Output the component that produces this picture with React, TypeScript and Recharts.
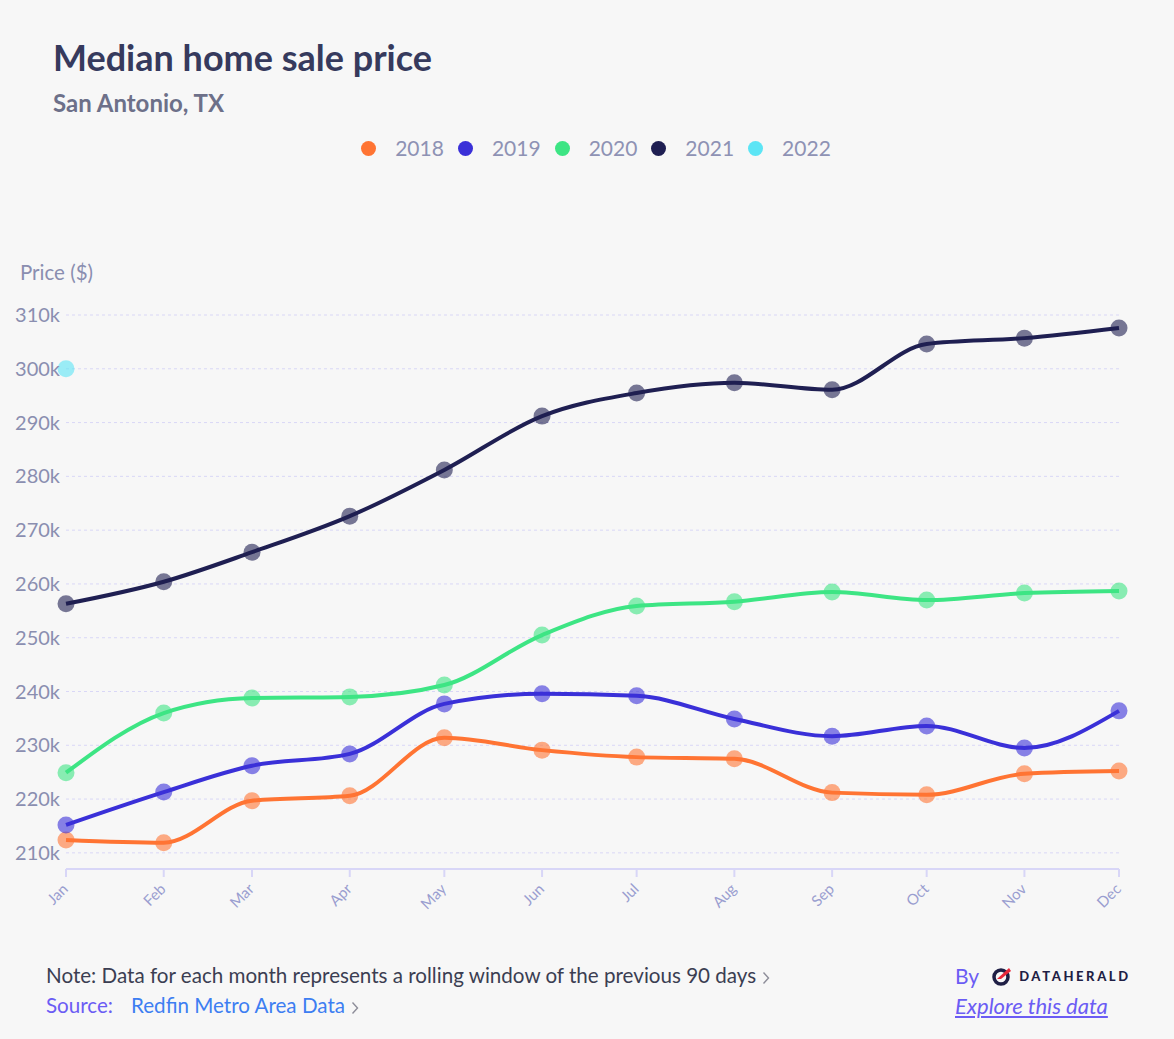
import React from "react";
import { LineChart, Line, XAxis, YAxis, CartesianGrid } from "recharts";

const months = ["Jan", "Feb", "Mar", "Apr", "May", "Jun", "Jul", "Aug", "Sep", "Oct", "Nov", "Dec"];
const dayOfYear = [0, 31, 59, 90, 120, 151, 181, 212, 243, 273, 304, 334];

const years = ["2018", "2019", "2020", "2021", "2022"];
const colors = ["#ff7433", "#3a30d8", "#3de584", "#1f1f52", "#5ce5f5"];

const s2018 = [212.4, 211.9, 219.7, 220.6, 231.4, 229.1, 227.8, 227.5, 221.2, 220.8, 224.7, 225.2];
const s2019 = [215.2, 221.3, 226.2, 228.4, 237.7, 239.6, 239.2, 234.9, 231.7, 233.6, 229.5, 236.4];
const s2020 = [224.9, 236.0, 238.8, 239.0, 241.2, 250.5, 255.9, 256.7, 258.5, 257.0, 258.3, 258.7];
const s2021 = [256.3, 260.4, 265.9, 272.6, 281.2, 291.2, 295.5, 297.4, 296.1, 304.6, 305.7, 307.6];
const s2022 = [300.0];

const yTicks = [210, 220, 230, 240, 250, 260, 270, 280, 290, 300, 310];

const seriesValues = [s2018, s2019, s2020, s2021, s2022];

const data = months.map((m, i) => {
  const row: Record<string, number | string | null> = { month: m, day: dayOfYear[i] };
  years.forEach((y, k) => {
    const v = seriesValues[k][i];
    row["y" + y] = v === undefined ? null : v * 1000;
  });
  return row;
});

const FONT = "Lato, 'Noto Sans', sans-serif";

const XTick = (props: any) => {
  const { x, y, payload } = props;
  const idx = dayOfYear.indexOf(payload.value);
  return (
    <g transform={`translate(${x + 3},${y + 11})`}>
      <text x={0} y={0} textAnchor="end" transform="rotate(-45)" fill="#9a9ed0" fontSize={15} fontFamily={FONT}>
        {months[idx]}
      </text>
    </g>
  );
};

const Chevron = () => (
  <svg width={8} height={14} viewBox="0 0 8 14" style={{ marginLeft: 6, verticalAlign: "middle" }}>
    <path d="M1.5 1.5 L6.5 7 L1.5 12.5" fill="none" stroke="#8d8d99" strokeWidth={1.4} />
  </svg>
);

export default function App() {
  return (
    <div
      style={{
        position: "absolute",
        left: 0,
        top: 0,
        width: 1174,
        height: 1039,
        background: "#f7f7f7",
        fontFamily: FONT,
        overflow: "hidden",
      }}
    >
      <div style={{ position: "absolute", left: 53, top: 35, fontSize: 36, fontWeight: 700, color: "#363a5d" }}>
        Median home sale price
      </div>
      <div style={{ position: "absolute", left: 53, top: 88, fontSize: 24, fontWeight: 700, color: "#6d7089" }}>
        San Antonio, TX
      </div>

      <div
        style={{
          position: "absolute",
          left: 0,
          top: 136,
          width: 1174,
          display: "flex",
          justifyContent: "center",
          paddingLeft: 32,
          boxSizing: "border-box",
        }}
      >
        {years.map((y, i) => (
          <div key={y} style={{ display: "flex", alignItems: "center", marginRight: 14 }}>
            <span
              style={{
                display: "inline-block",
                width: 15,
                height: 15,
                borderRadius: "50%",
                background: colors[i],
                marginRight: 19,
              }}
            />
            <span style={{ fontSize: 21, color: "#8e92b4", lineHeight: "24px" }}>{y}</span>
          </div>
        ))}
      </div>

      <div style={{ position: "absolute", left: 20, top: 260, fontSize: 20.5, color: "#8a8eb0" }}>Price ($)</div>

      <div style={{ position: "absolute", left: 0, top: 250 }}>
        <LineChart
          width={1174}
          height={680}
          data={data}
          margin={{ top: 65, right: 55, bottom: 11, left: 0 }}
        >
          <CartesianGrid vertical={false} strokeDasharray="3 3" stroke="#d9d7f6" />
          <XAxis
            dataKey="day"
            type="number"
            domain={[0, 334]}
            ticks={dayOfYear}
            interval={0}
            height={50}
            axisLine={{ stroke: "#d8d6f7", strokeWidth: 2 }}
            tickLine={{ stroke: "#d8d6f7", strokeWidth: 2 }}
            tickSize={8}
            tick={<XTick />}
          />
          <YAxis
            type="number"
            domain={[207000, 310000]}
            ticks={yTicks.map((t) => t * 1000)}
            width={66}
            axisLine={false}
            tickLine={false}
            tickSize={0}
            tickMargin={6}
            tickFormatter={(v: number) => `${v / 1000}k`}
            tick={{ fill: "#8a8eb0", fontSize: 20, fontFamily: FONT }}
          />
          {years.map((y, i) => (
            <Line
              key={y}
              type="monotone"
              dataKey={"y" + y}
              stroke={colors[i]}
              strokeWidth={4}
              connectNulls={false}
              isAnimationActive={false}
              dot={{ r: 8.5, fill: colors[i], fillOpacity: 0.6, stroke: "none" }}
              activeDot={false}
            />
          ))}
        </LineChart>
      </div>

      <div style={{ position: "absolute", left: 46, top: 963, fontSize: 20.6, color: "#3b3e52" }}>
        Note: Data for each month represents a rolling window of the previous 90 days
        <Chevron />
      </div>
      <div style={{ position: "absolute", left: 46, top: 993, fontSize: 20.6 }}>
        <span style={{ color: "#6b5cf4" }}>Source:</span>
        <span style={{ color: "#3d7ef2", marginLeft: 18 }}>Redfin Metro Area Data</span>
        <Chevron />
      </div>

      <div style={{ position: "absolute", left: 955, top: 963, display: "flex", alignItems: "center" }}>
        <span style={{ fontSize: 21, color: "#6b5cf4" }}>By</span>
        <svg width={22} height={22} viewBox="0 0 22 22" style={{ marginLeft: 12 }}>
          <circle cx={10} cy={12} r={7} fill="none" stroke="#1f1f45" strokeWidth={3.5} />
          <path d="M6 14 L18 3 L20 6 L10 14 Z" fill="#e8283a" />
        </svg>
        <span
          style={{
            fontSize: 13,
            fontWeight: 900,
            letterSpacing: 2.6,
            color: "#1f1f45",
            marginLeft: 6,
          }}
        >
          DATAHERALD
        </span>
      </div>
      <div
        style={{
          position: "absolute",
          left: 955,
          top: 992,
          fontSize: 22,
          fontStyle: "italic",
          color: "#6b5cf4",
          textDecoration: "underline",
        }}
      >
        Explore this data
      </div>
    </div>
  );
}
